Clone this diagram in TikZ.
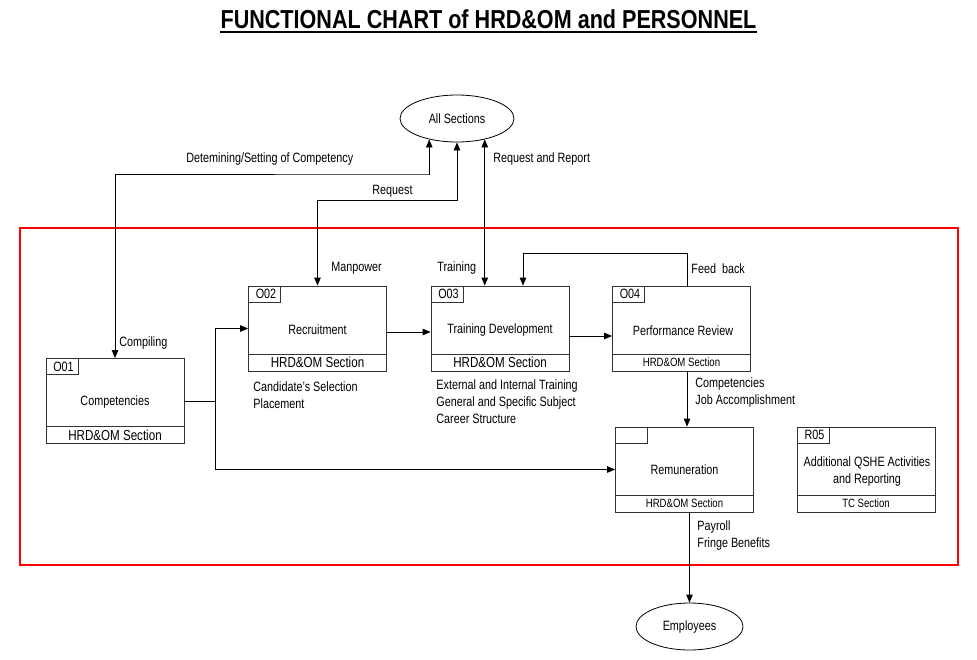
\documentclass[tikz,border=0pt]{standalone}
\usepackage{fontspec}
\setmainfont{Liberation Sans}[FakeStretch=0.8]
\newfontfamily\titlefont{Liberation Sans}[FakeStretch=0.83]
\usetikzlibrary{shapes.geometric,arrows.meta}

\newcommand{\lbltext}{\fontsize{13.5}{17}\selectfont}
\newcommand{\secbig}{\fontsize{14.5}{17}\selectfont}
\newcommand{\secsmall}{\fontsize{12}{14}\selectfont}

\begin{document}
\begin{tikzpicture}[x=1pt,y=-1pt,inner sep=0pt,line width=0.8pt,
  >={Stealth[length=8pt,width=6.5pt,inset=0pt]},
  funcbox/.style={rectangle,draw=black!80,minimum width=138,minimum height=85},
  tabbox/.style={rectangle,draw=black!80,minimum width=32,minimum height=16,anchor=north west,font=\lbltext},
  sectbox/.style={rectangle,draw=black!80,minimum width=138,minimum height=17,anchor=south},
  oval/.style={ellipse,draw,minimum width=114,minimum height=47,font=\lbltext},
  boxtext/.style={font=\lbltext,align=center},
  lbl/.style={anchor=west,font=\lbltext,align=left}]
\useasboundingbox (0,0) rectangle (977,659);

% title
\node (title) at (488.5,19) [font=\titlefont\bfseries\fontsize{26}{28}\selectfont] {FUNCTIONAL CHART of HRD\&OM and PERSONNEL};
\draw[line width=1.6pt] ([yshift=-3pt]title.south west) -- ([yshift=-3pt]title.south east);

% frame
\draw[red,line width=2pt] (20,228) rectangle (958,565);

% outside
\node (all) at (457,118.5) [oval] {All Sections};
\node (emp) at (689.5,626.5) [oval,minimum width=107] {Employees};

% function boxes
\node (o01) at (115,401) [funcbox] {};
\node (o01t) at (o01.north west) [tabbox] {\hspace{3pt}O01\hfill};
\node (o01s) at (o01.south) [sectbox,font=\secbig] {HRD\&OM Section};
\node (o01n) at (115,402) [boxtext] {Competencies};

\node (o02) at (317.5,328.5) [funcbox] {};
\node (o02t) at (o02.north west) [tabbox] {\hspace{3pt}O02\hfill};
\node (o02s) at (o02.south) [sectbox,font=\secbig] {HRD\&OM Section};
\node (o02n) at (317.5,330) [boxtext] {Recruitment};

\node (o03) at (500,328.5) [funcbox] {};
\node (o03t) at (o03.north west) [tabbox] {\hspace{3pt}O03\hfill};
\node (o03s) at (o03.south) [sectbox,font=\secbig] {HRD\&OM Section};
\node (o03n) at (500,330) [boxtext] {Training Development};

\node (o04) at (681.5,328.5) [funcbox] {};
\node (o04t) at (o04.north west) [tabbox] {\hspace{3pt}O04\hfill};
\node (o04s) at (o04.south) [sectbox,font=\secsmall] {HRD\&OM Section};
\node (o04n) at (683,331) [boxtext] {Performance Review};

\node (rem) at (684.5,469.5) [funcbox] {};
\node (remt) at (rem.north west) [tabbox] {};
\node (rems) at (rem.south) [sectbox,font=\secsmall] {HRD\&OM Section};
\node (remn) at (684.5,470) [boxtext] {Remuneration};

\node (r05) at (866,469.5) [funcbox] {};
\node (r05t) at (r05.north west) [tabbox] {\hspace{3pt}R05\hfill};
\node (r05s) at (r05.south) [sectbox,font=\secsmall] {TC Section};
\node (r05n) at (867,471.5) [boxtext] {Additional QSHE Activities\\and Reporting};

% connectors
\coordinate (detKnee) at (430,174);
\coordinate (reqKnee) at (457,200);
\coordinate (fbKnee) at (523,253);
\coordinate (fork) at (215,401);
\draw[<->] (all.217.5) |- (detKnee) -| (o01.north);
\draw[<->] (all.south) |- (reqKnee) -| (o02.north);
\draw[<->] (all.323.8) -- (all.323.8 |- o03.north);
\draw[->] ([xshift=5.5pt]o04.north) |- (fbKnee) -- (fbKnee |- o03.north);
\draw (o01.east) -- (fork);
\draw[->] (fork) |- (o02.west);
\draw[->] (fork) |- (rem.west);
\draw[->] ([yshift=-3.5pt]o02.east) -- ([yshift=-3.5pt]o03.west);
\draw[->] ([yshift=-7.5pt]o03.east) -- ([yshift=-7.5pt]o04.west);
\draw[->] ([xshift=5.5pt]o04.south) -- ([xshift=2.5pt]rem.north);
\draw[->] ([xshift=5pt]rem.south) -- (emp.north);

% labels
\node (detLbl) at (186,159.5) [lbl] {Detemining/Setting of Competency};
\node (reqLbl) at (372,191.5) [lbl] {Request};
\node (rrLbl) at (493,159.5) [lbl] {Request and Report};
\node (mpLbl) at (331,268.5) [lbl] {Manpower};
\node (trLbl) at (437,268.5) [lbl] {Training};
\node (fbLbl) at (691,268.5) [lbl] {Feed\ \ back};
\node (cmpLbl) at (119,343.5) [lbl] {Compiling};
\node (recOut) at (253,395.5) [lbl] {Candidate's Selection\\Placement};
\node (trOut) at (436,401.5) [lbl] {External and Internal Training\\General and Specific Subject\\Career Structure};
\node (perfOut) at (695,393) [lbl] {Competencies\\Job Accomplishment};
\node (remOut) at (697,536) [lbl] {Payroll\\Fringe Benefits};
\end{tikzpicture}
\end{document}
